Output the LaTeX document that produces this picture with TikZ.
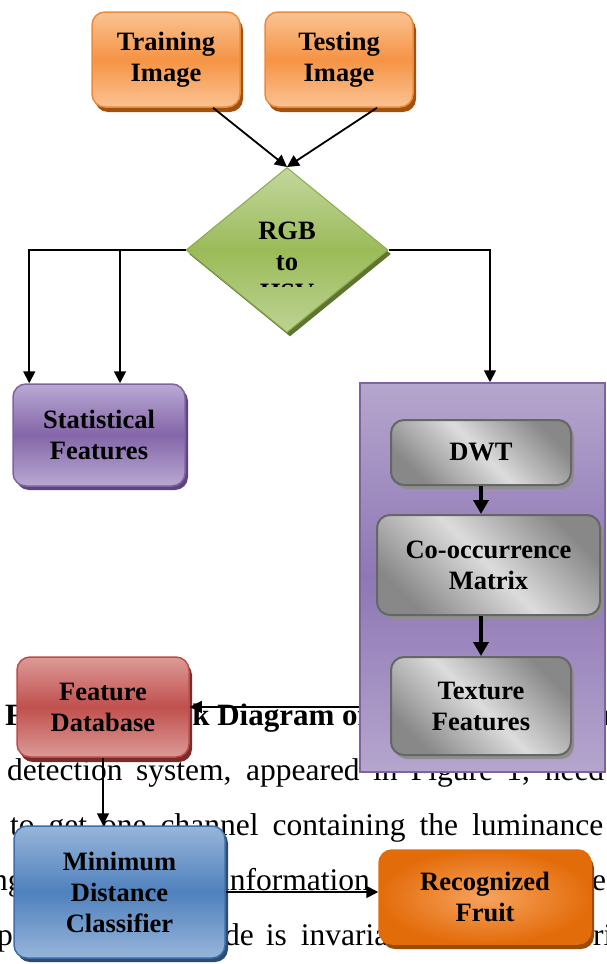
\documentclass[tikz,border=0pt]{standalone}
\usepackage{fontspec}
\setmainfont{Liberation Serif}
\usetikzlibrary{arrows.meta,shapes.geometric,shadows,calc}
\definecolor{otop}{HTML}{FAC393}
\definecolor{omid}{HTML}{F59445}
\definecolor{oborder}{HTML}{EC8A3E}
\definecolor{oshadow}{HTML}{A2520F}
\definecolor{ptop}{HTML}{B9A9D3}
\definecolor{pmid}{HTML}{8466A8}
\definecolor{pborder}{HTML}{7E63A1}
\definecolor{pshadow}{HTML}{5C4580}
\definecolor{pantop}{HTML}{B5A6CD}
\definecolor{panmid}{HTML}{8E77B5}
\definecolor{gdark}{HTML}{888888}
\definecolor{glight}{HTML}{DCDCDC}
\definecolor{gborder}{HTML}{666666}
\definecolor{gshadow}{HTML}{8E8E8E}
\definecolor{rtop}{HTML}{DC9A98}
\definecolor{rmid}{HTML}{C0504D}
\definecolor{rborder}{HTML}{BE4B48}
\definecolor{rshadow}{HTML}{7A2C2A}
\definecolor{btop}{HTML}{97B5D9}
\definecolor{bmid}{HTML}{4F81BD}
\definecolor{bborder}{HTML}{3D6DA8}
\definecolor{bshadow}{HTML}{2C4C75}
\definecolor{fin}{HTML}{F7A35E}
\definecolor{fout}{HTML}{E36C0A}
\definecolor{fshadow}{HTML}{9A4B07}
\definecolor{gtop}{HTML}{C3D79D}
\definecolor{gmid}{HTML}{9BBB59}
\definecolor{gborder2}{HTML}{8CAA4E}
\definecolor{gshadow2}{HTML}{5E7530}
\tikzset{
  boxtext/.style={font=\fontsize{26.5}{31}\selectfont\bfseries, align=center, text=black},
  rbox/.style={boxtext, rectangle, rounded corners=13pt, line width=1.5pt, inner sep=0pt},
  orangebox/.style={rbox, draw=oborder, top color=otop, bottom color=otop, middle color=omid,
    drop shadow={shadow xshift=3pt, shadow yshift=-5pt, fill=oshadow, opacity=1}},
  purplebox/.style={rbox, draw=pborder, top color=ptop, bottom color=ptop, middle color=pmid,
    drop shadow={shadow xshift=3pt, shadow yshift=-4pt, fill=pshadow, opacity=1}},
  graybox/.style={rbox, draw=gborder, line width=2pt, top color=gdark, bottom color=gdark, middle color=glight, shading angle=135,
    drop shadow={shadow xshift=3pt, shadow yshift=-4pt, fill=gshadow, opacity=1}},
  redbox/.style={rbox, draw=rborder, top color=rtop, bottom color=rtop, middle color=rmid,
    drop shadow={shadow xshift=3pt, shadow yshift=-5pt, fill=rshadow, opacity=1}},
  bluebox/.style={rbox, draw=bborder, top color=btop, bottom color=btop, middle color=bmid,
    drop shadow={shadow xshift=3pt, shadow yshift=-4pt, fill=bshadow, opacity=1}},
  fruitbox/.style={rbox, draw=fout, inner color=fin, outer color=fout,
    drop shadow={shadow xshift=3pt, shadow yshift=-5pt, fill=fshadow, opacity=1}},
  greendiamond/.style={diamond, inner sep=0pt, draw=gborder2, line width=1pt, top color=gtop, bottom color=gtop!85!gmid, middle color=gmid,
    drop shadow={shadow xshift=3pt, shadow yshift=-4pt, fill=gshadow2, opacity=1}},
  panelbox/.style={rectangle, draw=pborder, line width=1.5pt, top color=pantop, bottom color=pantop, middle color=panmid, inner sep=0pt},
  arr/.style={-{Triangle[length=12pt,width=12pt]}, line width=1.8pt, black},
  thickarr/.style={-{Triangle[length=14pt,width=15pt]}, line width=3.5pt, black},
  bgtext/.style={font=\fontsize{31.5}{36}\selectfont, inner sep=0pt, anchor=base west, text=black},
  bgbold/.style={bgtext, font=\fontsize{31}{36}\selectfont\bfseries},
}
\begin{document}
\begin{tikzpicture}[x=1pt,y=-1pt]
\useasboundingbox (0,0) rectangle (606,964);
\fill[white] (0,0) rectangle (606,964);

% background page text (partly hidden behind the diagram)
\node[bgbold] (t1) at (5,725) {Figure 1. Block Diagram of Fruit Recognition};
\node[bgtext] (t2) at (7,780) {\makebox[597pt][s]{detection system, appeared in Figure 1, need}};
\node[bgtext] (t3) at (10,835) {\makebox[593pt][s]{to get one channel containing the luminance}};
\node[bgtext] (t4a) at (-8,890) {ng};
\node[bgtext] (t4b) at (221,890) {information};
\node[bgtext] (t4c) at (592,890) {es};
\node[bgtext] (t5a) at (-3,945) {p};
\node[bgtext] (t5b) at (224,945) {de\hspace{12pt}is\hspace{14pt}invariant};
\node[bgtext] (t5c) at (593,945) {ri};

% nodes
\node[orangebox, minimum width=148pt, minimum height=95pt] (train) at (166,59.5) {Training\\Image};
\node[orangebox, minimum width=148pt, minimum height=95pt] (test) at (339,59.5) {Testing\\Image};
\node[greendiamond, minimum width=202pt, minimum height=165pt] (rgb) at (287,250) {};
\begin{scope}
  \clip (180,200) rectangle (400,286.5);
  \node[boxtext, inner sep=0pt] (rgbtext) at (287,262) {RGB\\to\\HSV};
\end{scope}
\node[purplebox, minimum width=172pt, minimum height=102pt] (stat) at (99,435) {Statistical\\Features};
\node[panelbox, minimum width=245pt, minimum height=389pt] (panel) at (482.5,577.5) {};
\node[graybox, minimum width=180pt, minimum height=65pt] (dwt) at (481,452.5) {DWT};
\node[graybox, minimum width=223pt, minimum height=100pt] (co) at (488.5,565) {Co-occurrence\\Matrix};
\node[graybox, minimum width=180pt, minimum height=98pt] (tex) at (481,706) {Texture\\Features};
\node[redbox, minimum width=172pt, minimum height=100pt] (fdb) at (103,707) {Feature\\Database};
\node[bluebox, minimum width=211pt, minimum height=132pt] (min) at (119.5,892) {Minimum\\Distance\\Classifier};
\node[fruitbox, minimum width=212pt, minimum height=94pt] (rec) at (485,897) {Recognized\\Fruit};

% connectors
\draw[arr] ($(train.south)+(47,0)$) -- (rgb.north);
\draw[arr] ($(test.south)+(38,0)$) -- (rgb.north);
\draw[arr] (rgb.west) -| ($(stat.north west)+(17,0)$);
\draw[arr] (rgb.west) -| ($(stat.north)+(21,0)$);
\draw[arr] (rgb.east) -| ($(panel.north)+(7.5,0)$);
\draw[thickarr] (dwt.south) -- (dwt.south |- co.north);
\draw[thickarr] (co.south -| tex.north) -- (tex.north);
\draw[arr] (panel.west |- fdb.east) -- (fdb.east);
\draw[arr] (fdb.south) -- (fdb.south |- min.north);
\draw[arr] (min.east) -- (min.east -| rec.west);
\end{tikzpicture}
\end{document}
